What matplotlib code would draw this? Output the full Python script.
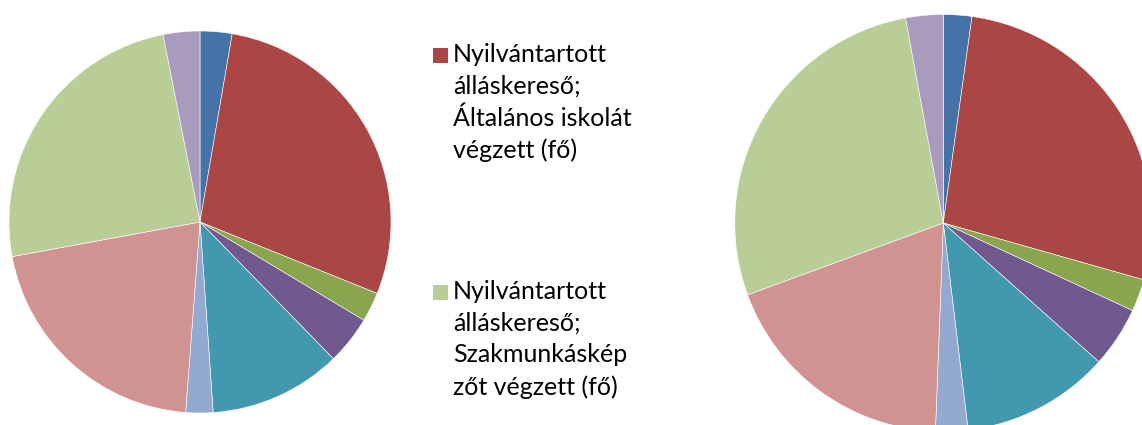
import matplotlib
matplotlib.use("Agg")
import matplotlib.pyplot as plt
from matplotlib.patches import Rectangle

# --- data ---
categories = ["Kat1", "Általános iskolát végzett", "Kat3", "Kat4", "Kat5",
              "Kat6", "Kat7", "Szakmunkásképzőt végzett", "Kat9"]
left_values = [27, 284, 25, 41, 112, 23, 209, 248, 31]
right_values = [22, 272, 25, 47, 115, 25, 188, 277, 29]
colors = ["#4572A7", "#AA4643", "#89A54E", "#71588F", "#4198AF",
          "#93A9CF", "#D19392", "#B9CD96", "#A99BBD"]
legend_labels = ["Nyilvántartott\nálláskereső;\nÁltalános iskolát\nvégzett (fő)",
                 "Nyilvántartott\nálláskereső;\nSzakmunkáskép\nzőt végzett (fő)"]
legend_idx = [1, 7]

W, H = 1142, 425
fig = plt.figure(figsize=(W / 100, H / 100), dpi=100)


def pie_axes(cx, cy, r):
    return fig.add_axes([(cx - r) / W, (H - cy - r) / H, 2 * r / W, 2 * r / H])


for vals, (cx, cy, r) in [(left_values, (200, 222, 191)),
                          (right_values, (943.3, 223, 208.5))]:
    ax = pie_axes(cx, cy, r)
    ax.pie(vals, colors=colors, startangle=90, counterclock=False, radius=1,
           wedgeprops=dict(edgecolor="white", linewidth=0.4))
    ax.set_xlim(-1, 1)
    ax.set_ylim(-1, 1)
    ax.set_aspect("equal")
    ax.axis("off")

# legend
fs = 18
for k, (lab, ci) in enumerate(zip(legend_labels, legend_idx)):
    top = 48 if k == 0 else 285
    fig.patches.append(Rectangle((433 / W, 1 - (top + 15) / H), 15 / W, 15 / H,
                                 transform=fig.transFigure, facecolor=colors[ci],
                                 edgecolor="none"))
    fig.text(453 / W, 1 - (top - 5) / H, lab, fontsize=fs, family="Lato",
             va="top", ha="left", linespacing=1.45, color="black")

fig.savefig("out.png", dpi=100)
